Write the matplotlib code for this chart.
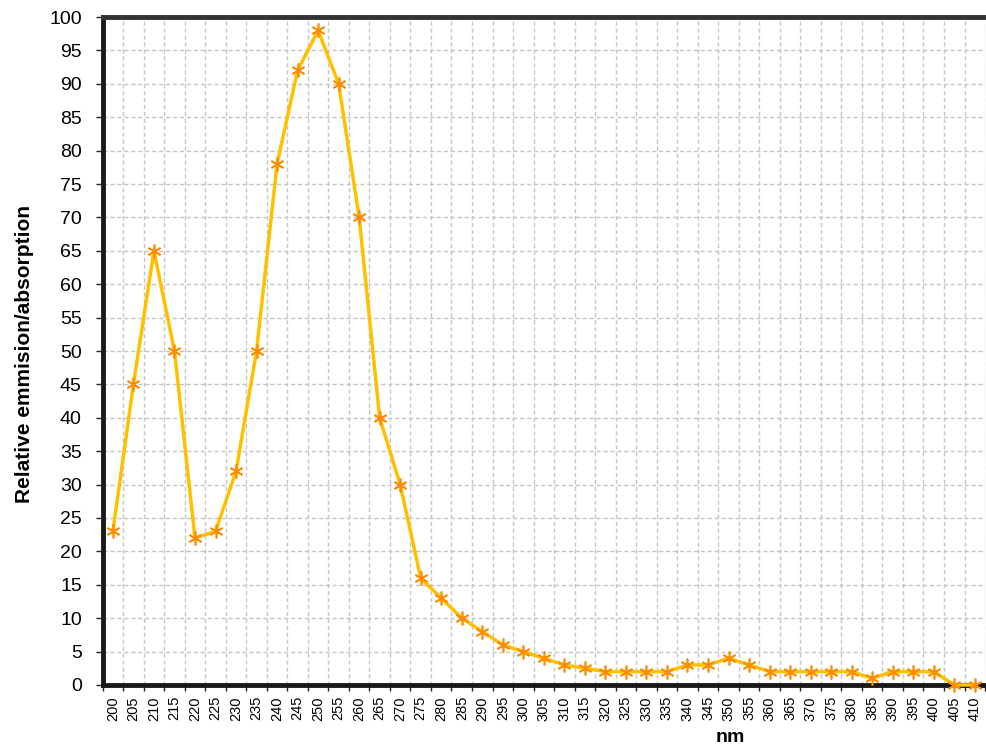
import matplotlib
matplotlib.use("Agg")
import matplotlib.pyplot as plt
from matplotlib.ticker import FixedLocator, MultipleLocator

plt.rcParams['font.family'] = ['Liberation Sans', 'DejaVu Sans']

wavelengths = list(range(200, 415, 5))
values = [23, 45, 65, 50, 22, 23, 32, 50, 78, 92, 98, 90, 70, 40, 30, 16, 13, 10, 8, 6,
          5, 4, 3, 2.5, 2, 2, 2, 2, 3, 3, 4, 3, 2, 2, 2, 2, 2, 1, 2, 2, 2, 0, 0]
x_label = "nm"
y_label = "Relative emmision/absorption"

fig = plt.figure(figsize=(9.87, 7.5), dpi=100)
ax = fig.add_axes([0.104, 0.0867, 0.894, 0.8906])

pos = list(range(len(wavelengths)))
ax.plot(pos, values, color='#FFC000', lw=2.5, zorder=3, clip_on=False,
        marker=(6, 2, 0), markersize=10, markeredgecolor='#FF8C00',
        markerfacecolor='#FF8C00', markeredgewidth=1.2)

ax.set_xlim(-0.5, len(wavelengths) - 0.5)
ax.set_ylim(0, 100)
ax.set_xticks(pos)
ax.set_xticklabels([str(w) for w in wavelengths], rotation=90, fontsize=10.5)
ax.xaxis.set_minor_locator(FixedLocator([p - 0.5 for p in pos] + [len(pos) - 0.5]))
ax.tick_params(axis='x', which='major', length=0, pad=8)
ax.tick_params(axis='x', which='minor', length=4, width=1, color='#222222')
ax.yaxis.set_major_locator(MultipleLocator(5))
ax.tick_params(axis='y', which='major', length=5, width=1, color='#222222',
               labelsize=14, pad=10)

ax.grid(False)
ax.xaxis.grid(True, which='minor', color='#c4c4c4', ls=(0, (3, 2)), lw=1)
ax.yaxis.grid(True, which='major', color='#c4c4c4', ls=(0, (3, 2)), lw=1)
ax.set_axisbelow(True)

ax.spines['right'].set_visible(False)
ax.spines['left'].set_linewidth(3.5)
ax.spines['left'].set_color('#1a1a1a')
ax.spines['bottom'].set_linewidth(3.5)
ax.spines['bottom'].set_color('#1a1a1a')
ax.spines['top'].set_linewidth(3.5)
ax.spines['top'].set_color('#333333')

ax.set_xlabel(x_label, fontsize=14, fontweight='bold')
ax.xaxis.set_label_coords((730 - 102.7) / 882.3, -0.066)
ax.set_ylabel(y_label, fontsize=15, fontweight='bold')
ax.yaxis.set_label_coords(-0.078, 0.495)

fig.savefig("out.png", dpi=100, facecolor='white')
